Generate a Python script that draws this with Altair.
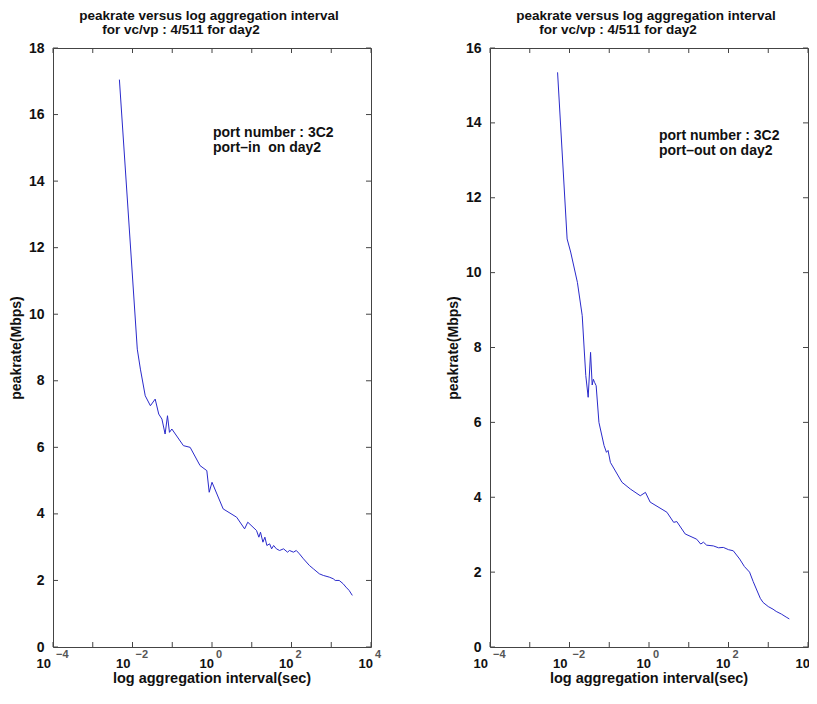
import altair as alt
import pandas as pd

# ---- data ----
left_interval = [0.00468, 0.0132, 0.0158, 0.0209, 0.0282, 0.0372, 0.0457, 0.0550, 0.0661,
                 0.0759, 0.0851, 0.0977, 0.191, 0.282, 0.501, 0.741, 0.851, 1.0, 1.91,
                 4.17, 6.61, 7.94, 13.2, 15.1, 16.6, 19.1, 21.4, 24.0, 28.2, 31.6, 35.5,
                 41.7, 50.1, 63.1, 79.4, 89.1, 112, 132, 158, 200, 282, 355, 501, 631,
                 891, 1122, 1259, 1585, 1995, 2344, 2818, 3388]
left_peakrate = [17.05, 8.95, 8.35, 7.55, 7.25, 7.45, 7.0, 6.85, 6.4,
                 6.95, 6.45, 6.55, 6.05, 6.0, 5.45, 5.3, 4.65, 4.95, 4.15,
                 3.9, 3.55, 3.75, 3.5, 3.3, 3.45, 3.15, 3.3, 3.05, 3.1, 2.95, 3.05,
                 2.95, 2.9, 2.95, 2.85, 2.9, 2.85, 2.9, 2.8, 2.65, 2.45, 2.35, 2.2, 2.15,
                 2.1, 2.05, 2.0, 2.0, 1.9, 1.8, 1.7, 1.55]

right_interval = [0.00501, 0.00871, 0.0107, 0.0158, 0.0209, 0.0234, 0.0257, 0.0295, 0.0339,
                  0.0372, 0.0398, 0.0427, 0.0468, 0.0550, 0.0741, 0.0851, 0.0933, 0.107,
                  0.209, 0.339, 0.603, 0.813, 1.07, 2.82, 4.17, 5.01, 8.13, 15.8, 20.0,
                  23.4, 28.2, 41.7, 56.2, 74.1, 100, 132, 191, 251, 339, 417, 501, 631,
                  741, 1000, 1318, 1585, 2138, 2818, 3388]
right_peakrate = [15.35, 10.9, 10.55, 9.74, 8.85, 7.96, 7.25, 6.67, 7.87,
                  7.0, 7.15, 7.07, 6.98, 6.0, 5.38, 5.2, 5.25, 4.93,
                  4.4, 4.22, 4.04, 4.13, 3.87, 3.6, 3.33, 3.35, 3.02, 2.88, 2.75,
                  2.8, 2.72, 2.7, 2.65, 2.66, 2.6, 2.57, 2.35, 2.15, 2.0, 1.75, 1.55, 1.3,
                  1.19, 1.08, 1.01, 0.95, 0.88, 0.8, 0.75]

decade_ticks = [1e-4, 1e-3, 1e-2, 1e-1, 1, 1e1, 1e2, 1e3, 1e4]
label_ticks = [1e-4, 1e-2, 1, 1e2, 1e4]
label_base = ["10", "10", "10", "10", "10"]
label_exp = ["\u22124", "\u22122", "0", "2", "4"]

left_yticks = [0, 2, 4, 6, 8, 10, 12, 14, 16, 18]
right_yticks = [0, 2, 4, 6, 8, 10, 12, 14, 16]

title_line1 = "peakrate versus log aggregation interval"
title_line2 = "for vc/vp : 4/511 for day2"
left_note = ["port number : 3C2", "port\u2013in\u00a0 on day2"]
right_note = ["port number : 3C2", "port\u2013out on day2"]
left_note_pos = ([1.06, 1.06], [15.45, 14.98])
right_note_pos = ([1.78, 1.78], [13.65, 13.25])

W, H = 318, 599
LINE = "#2a2acb"
FRAME = "#444444"
TXT = "#111111"
FONT = "Liberation Sans"


def panel(interval, rate, ymax, yticks, note, note_pos):
    xs = alt.Scale(type="log", domain=[1e-4, 1e4], nice=False)
    ys = alt.Scale(domain=[0, ymax], nice=False, zero=True)
    X = alt.X("interval:Q", scale=xs, axis=None)
    Y = alt.Y("peakrate:Q", scale=ys, axis=alt.Axis(
        values=yticks, ticks=False, domain=False, grid=False, labelOverlap=False,
        labelFont=FONT, labelFontSize=14, labelFontWeight="bold", labelColor=TXT,
        labelPadding=9, title="peakrate(Mbps)", titleFont=FONT, titleFontSize=14,
        titleFontWeight="bold", titleColor=TXT, titlePadding=5))

    df = pd.DataFrame({"interval": interval, "peakrate": rate})
    line = alt.Chart(df).mark_line(color=LINE, strokeWidth=1).encode(x=X, y=Y)

    xt = pd.DataFrame({"interval": decade_ticks})
    xb = alt.Chart(xt).mark_rule(color=FRAME).encode(x=X, y=alt.value(H), y2=alt.value(H - 5))
    xtop = alt.Chart(xt).mark_rule(color=FRAME).encode(x=X, y=alt.value(0), y2=alt.value(5))
    yt = pd.DataFrame({"peakrate": yticks})
    yl = alt.Chart(yt).mark_rule(color=FRAME).encode(y=Y, x=alt.value(0), x2=alt.value(5))
    yr = alt.Chart(yt).mark_rule(color=FRAME).encode(y=Y, x=alt.value(W - 5), x2=alt.value(W))

    lab = pd.DataFrame({"interval": label_ticks, "base": label_base, "exp": label_exp})
    neg = lab[lab["interval"] < 1]
    pos = lab[lab["interval"] >= 1]
    base_kw = dict(baseline="middle", font=FONT, fontSize=13, fontWeight="bold", color=TXT)
    exp_kw = dict(baseline="middle", font=FONT, fontSize=11, fontWeight="bold", color="#555555")
    bn = alt.Chart(neg).mark_text(align="right", dx=-2, **base_kw).encode(
        x=X, y=alt.value(H + 17), text="base:N")
    bp = alt.Chart(pos).mark_text(align="right", dx=2, **base_kw).encode(
        x=X, y=alt.value(H + 17), text="base:N")
    en = alt.Chart(neg).mark_text(align="left", dx=3, **exp_kw).encode(
        x=X, y=alt.value(H + 8), text="exp:N")
    ep = alt.Chart(pos).mark_text(align="left", dx=4, **exp_kw).encode(
        x=X, y=alt.value(H + 8), text="exp:N")

    xtitle = alt.Chart(pd.DataFrame({"t": ["log aggregation interval(sec)"]})).mark_text(
        align="center", baseline="middle", font=FONT, fontSize=14.5, fontWeight="bold",
        color=TXT).encode(x=alt.value(W / 2), y=alt.value(H + 32), text="t:N")

    t_kw = dict(align="center", baseline="alphabetic", font=FONT, fontSize=13.5,
                fontWeight="bold", color=TXT)
    t1 = alt.Chart(pd.DataFrame({"t": [title_line1]})).mark_text(**t_kw).encode(
        x=alt.value(W / 2 - 3), y=alt.value(-28.5), text="t:N")
    t2 = alt.Chart(pd.DataFrame({"t": [title_line2]})).mark_text(**t_kw).encode(
        x=alt.value(W / 2 - 31), y=alt.value(-14.5), text="t:N")

    nd = pd.DataFrame({"interval": note_pos[0], "peakrate": note_pos[1], "txt": note})
    notes = alt.Chart(nd).mark_text(align="left", baseline="middle", font=FONT, fontSize=14,
                                    fontWeight="bold", color=TXT).encode(x=X, y=Y, text="txt:N")

    return alt.layer(line, xb, xtop, yl, yr, bn, bp, en, ep, xtitle, t1, t2, notes).properties(
        width=W, height=H)


left = panel(left_interval, left_peakrate, 18, left_yticks, left_note, left_note_pos)
right = panel(right_interval, right_peakrate, 16, right_yticks, right_note, right_note_pos)

chart = alt.hconcat(left, right, spacing=119, bounds="flush").properties(
    padding={"left": 0, "top": 0, "right": -10, "bottom": 2},
    background="white",
).configure_view(stroke=FRAME, strokeWidth=1)

chart.save("out.html", embed_options={"renderer": "svg", "actions": False})
